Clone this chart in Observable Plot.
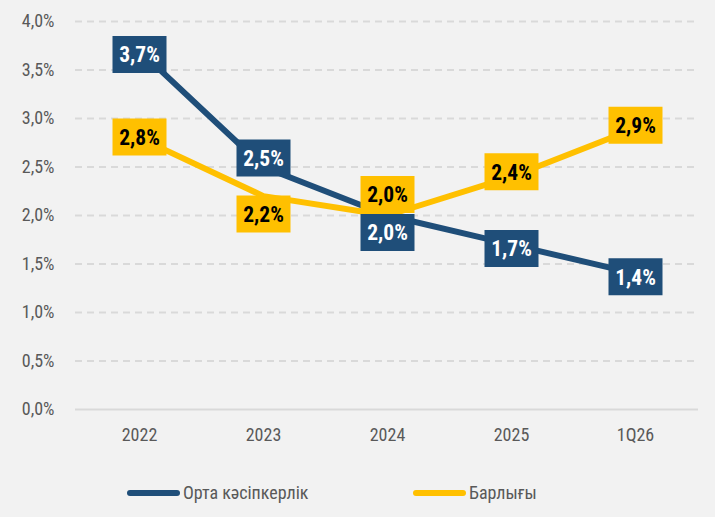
<!DOCTYPE html>
<html>
<head>
<meta charset="utf-8">
<script src="https://cdn.jsdelivr.net/npm/d3@7"></script>
<script src="https://cdn.jsdelivr.net/npm/@observablehq/plot@0.6"></script>
<style>
  html, body { margin: 0; padding: 0; background: #f2f2f2; }
  body { width: 715px; height: 517px; overflow: hidden; }
  #legend { height: 49px; display: flex; align-items: center; padding-left: 127px; color: #595959; }
  .item { display: flex; align-items: center; }
  .sw { width: 53px; height: 6px; border-radius: 3px; margin-right: 3px; }
</style>
</head>
<body>
<div id="chart"></div>
<div id="legend"></div>
<script>
const categories = ["2022", "2023", "2024", "2025", "1Q26"];
const ortaValues = [3.7, 2.5, 2.0, 1.7, 1.4];
const barlygyValues = [2.8, 2.2, 2.0, 2.4, 2.9];
const seriesNames = ["Орта кәсіпкерлік", "Барлығы"];
const yTicks = [0, 0.5, 1.0, 1.5, 2.0, 2.5, 3.0, 3.5, 4.0];

// styling
const colors = ["#1f4e79", "#ffc000"];
const textColors = ["#ffffff", "#000000"];
const labelNudge = [[4, -9, 17, 4, 3], [-1, 18, -21, -5, -3]];

// ---- pick a condensed font that is installed ----
const ctx = document.createElement("canvas").getContext("2d");
function widthOf(str, font, stretch) {
  ctx.font = font;
  try { ctx.fontStretch = stretch || "normal"; } catch (e) {}
  return ctx.measureText(str).width;
}
function installed(f) {
  const s = "3,7% Орта кәсіпкерлік 2022 Wmi";
  return ["monospace", "serif"].some(b => widthOf(s, `20px "${f}", ${b}`) !== widthOf(s, `20px ${b}`));
}
let family = null, stretch = "normal";
for (const f of ["Roboto Condensed", "DejaVu Sans Condensed", "Liberation Sans Narrow", "Arial Narrow", "Open Sans Condensed"]) {
  if (installed(f)) { family = f; break; }
}
if (!family) {
  for (const f of ["Roboto", "DejaVu Sans", "Open Sans"]) {
    const s = "3,7% Орта кәсіпкерлік";
    if (installed(f) && widthOf(s, `20px "${f}"`, "condensed") < widthOf(s, `20px "${f}"`, "normal") - 1) {
      family = f; stretch = "condensed"; break;
    }
  }
}
if (!family) family = "Roboto";
const FONT = `"${family}", "DejaVu Sans", sans-serif`;
// fit font size to the reference text widths (small tolerance for a wider face)
function fitSize(str, target, max, weight) {
  const w = widthOf(str, `${weight || "normal"} 20px ${FONT}`, stretch);
  return Math.min(max, 20 * target * 1.1 / w);
}
const tickSize = fitSize("2022", 34, 18);
const labelSize = fitSize("3,7%", 37, 22, "bold");
const legendSize = fitSize("Орта кәсіпкерлік", 122, 18);

const series = [ortaValues, barlygyValues].map((vals, s) =>
  vals.map((v, i) => ({series: seriesNames[s], s, cat: categories[i], value: v, i}))
);

const fmt = v => v.toFixed(1).replace(".", ",") + "%";
const boxSymbol = { draw(c) { c.rect(-27, -18.5, 54, 37); } };

const labelMarks = series.flatMap((rows, s) => rows.flatMap(d => [
  Plot.dot([d], {x: "cat", y: "value", r: 1, symbol: boxSymbol, fill: colors[s], stroke: "none", dy: labelNudge[s][d.i]}),
  Plot.text([d], {x: "cat", y: "value", text: r => fmt(r.value), fill: textColors[s], fontWeight: "bold",
    fontSize: labelSize, fontFamily: FONT, dy: labelNudge[s][d.i] + 1})
]));

const chart = Plot.plot({
  width: 715,
  height: 468,
  marginTop: 21,
  marginBottom: 59,
  marginLeft: 75,
  marginRight: 17,
  style: {background: "#f2f2f2", fontFamily: FONT, fontStretch: stretch},
  x: {type: "point", domain: categories, padding: 0.5, label: null},
  y: {domain: [0, 4], label: null},
  marks: [
    Plot.ruleY(yTicks.filter(t => t > 0), {stroke: "#d9d9d9", strokeWidth: 2, strokeDasharray: "7,5"}),
    Plot.ruleY([0], {stroke: "#d9d9d9", strokeWidth: 2}),
    Plot.axisY({ticks: yTicks, tickFormat: fmt, tickSize: 0, tickPadding: 21, fontSize: tickSize, fill: "#595959", label: null}),
    Plot.axisX({tickSize: 0, tickPadding: 19, fontSize: tickSize, fill: "#595959", label: null}),
    Plot.line(series[0], {x: "cat", y: "value", stroke: colors[0], strokeWidth: 6}),
    Plot.line(series[1], {x: "cat", y: "value", stroke: colors[1], strokeWidth: 6}),
    ...labelMarks
  ]
});
chart.style.fontStretch = stretch;
document.getElementById("chart").appendChild(chart);

const legend = document.getElementById("legend");
legend.style.fontFamily = FONT;
legend.style.fontStretch = stretch;
legend.style.fontSize = legendSize + "px";
const itemLefts = [127, 413];
seriesNames.forEach((name, s) => {
  const item = document.createElement("div");
  item.className = "item";
  const sw = document.createElement("span");
  sw.className = "sw";
  sw.style.background = colors[s];
  const t = document.createElement("span");
  t.textContent = name;
  item.appendChild(sw);
  item.appendChild(t);
  legend.appendChild(item);
});
// place second legend item at its reference position
const items = legend.querySelectorAll(".item");
const firstRight = 127 + items[0].getBoundingClientRect().width;
items[1].style.marginLeft = Math.max(20, itemLefts[1] - firstRight) + "px";
</script>
</body>
</html>
